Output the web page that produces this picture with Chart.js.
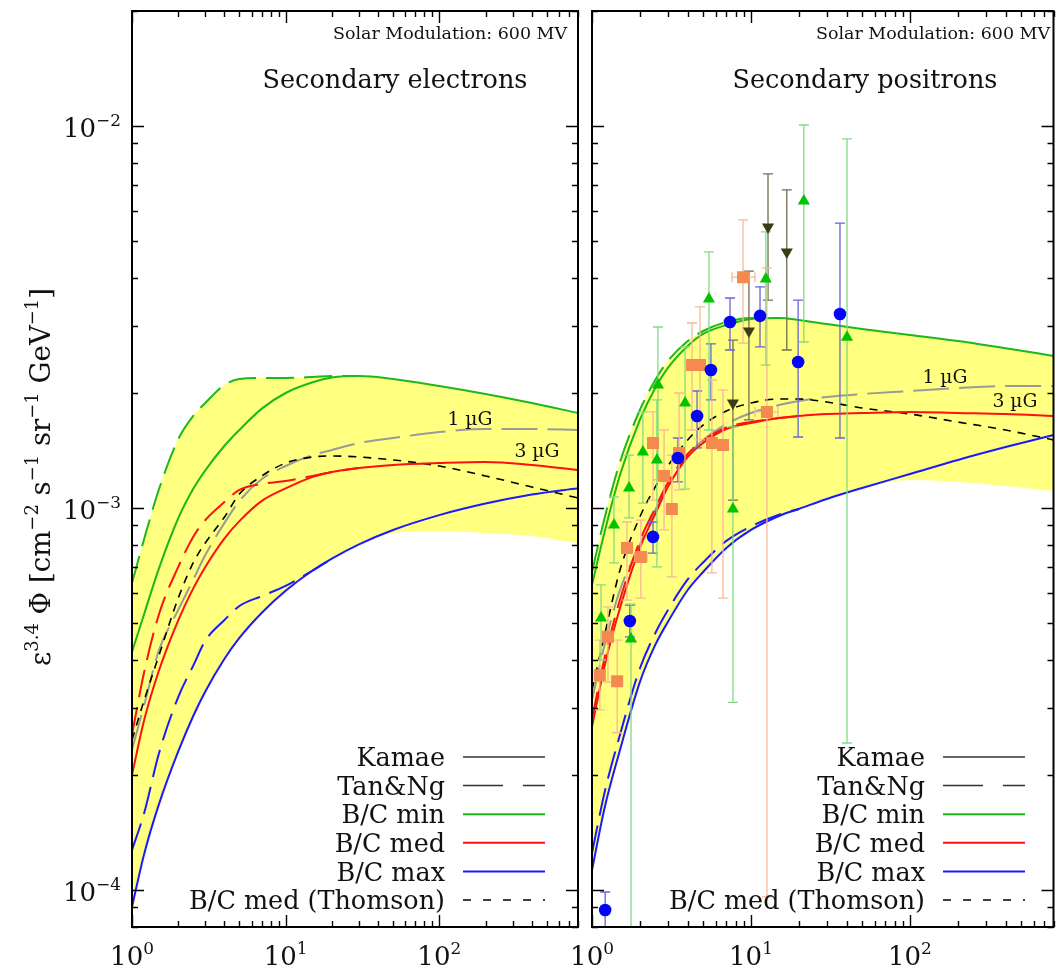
<!DOCTYPE html>
<html>
<head>
<meta charset="utf-8">
<script src="https://cdn.jsdelivr.net/npm/chart.js@4.4.1/dist/chart.umd.min.js"></script>
<style>
  html, body { margin: 0; padding: 0; background: #ffffff; }
  body { width: 1062px; height: 971px; position: relative; overflow: hidden; }
  canvas { position: absolute; left: 0; top: 0; width: 1062px; height: 971px; }
</style>
</head>
<body>
<canvas id="electrons" width="1062" height="971"></canvas>
<canvas id="positrons" width="1062" height="971"></canvas>
<script>
// ---------- axis ranges ----------
const X_MIN = 1, X_MAX = 800;          // kinetic energy [GeV]
const Y_MIN = 8e-5, Y_MAX = 2e-2;      // eps^3.4 * flux
const X_TICK_EXP = [0, 1, 2];
const Y_TICK_EXP = [-4, -3, -2];

// energy grid of the model curves [GeV]
const E_GRID = [1, 1.2, 1.5, 2, 2.5, 3, 4, 5, 7, 10, 15, 20, 30, 50, 100, 200, 400, 800];

// ---------- secondary electrons (left panel) ----------
const elMinKamae = [4.2e-4, 5.28e-4, 6.96e-4, 9.4e-4, 1.121e-3, 1.255e-3, 1.455e-3, 1.60e-3, 1.82e-3, 2.0e-3, 2.133e-3, 2.195e-3, 2.215e-3, 2.176e-3, 2.086e-3, 1.988e-3, 1.883e-3, 1.773e-3];
const elMinTanNg = [6.36e-4, 8.3e-4, 1.121e-3, 1.515e-3, 1.741e-3, 1.883e-3, 2.099e-3, 2.176e-3, 2.189e-3, 2.189e-3, 2.202e-3, 2.215e-3, 2.215e-3];
const elMedKamae = [2.0e-4, 2.786e-4, 3.76e-4, 5.08e-4, 6.15e-4, 7.01e-4, 8.33e-4, 9.24e-4, 1.044e-3, 1.125e-3, 1.206e-3, 1.242e-3, 1.273e-3, 1.296e-3, 1.311e-3, 1.32e-3, 1.296e-3, 1.257e-3];
const elMedTanNg = [2.55e-4, 3.72e-4, 5.28e-4, 7.01e-4, 8.4e-4, 9.3e-4, 1.037e-3, 1.115e-3, 1.156e-3, 1.177e-3, 1.213e-3, 1.242e-3, 1.273e-3];
const elMaxKamae = [9.03e-5, 1.242e-4, 1.68e-4, 2.305e-4, 2.85e-4, 3.31e-4, 4.03e-4, 4.57e-4, 5.32e-4, 6.07e-4, 6.86e-4, 7.37e-4, 8.03e-4, 8.76e-4, 9.58e-4, 1.027e-3, 1.085e-3, 1.127e-3];
const elMaxTanNg = [1.272e-4, 1.59e-4, 2.284e-4, 3.2e-4, 3.86e-4, 4.49e-4, 5.09e-4, 5.54e-4, 5.88e-4, 6.25e-4, 6.86e-4, 7.37e-4];
const elMedThomson = [2.47e-4, 3.14e-4, 4.12e-4, 5.81e-4, 7.18e-4, 8.1e-4, 9.47e-4, 1.088e-3, 1.213e-3, 1.311e-3, 1.36e-3, 1.368e-3, 1.36e-3, 1.336e-3, 1.288e-3, 1.213e-3, 1.135e-3, 1.062e-3];
const elMed1uG = [2.33e-4, 3.05e-4, 4.25e-4, 5.41e-4, 6.48e-4, 7.53e-4, 9.14e-4, 1.043e-3, 1.191e-3, 1.288e-3, 1.376e-3, 1.419e-3, 1.48e-3, 1.525e-3, 1.581e-3, 1.61e-3, 1.61e-3, 1.6e-3];
const elBandUpper = [6.36e-4, 8.3e-4, 1.121e-3, 1.515e-3, 1.741e-3, 1.883e-3, 2.099e-3, 2.176e-3, 2.189e-3, 2.189e-3, 2.202e-3, 2.215e-3, 2.215e-3, 2.176e-3, 2.086e-3, 1.988e-3, 1.883e-3, 1.773e-3];
const elBandLower = [9.03e-5, 1.242e-4, 1.68e-4, 2.305e-4, 2.85e-4, 3.31e-4, 4.03e-4, 4.57e-4, 5.32e-4, 6.07e-4, 6.86e-4, 7.37e-4, 8.03e-4, 8.6e-4, 8.7e-4, 8.6e-4, 8.45e-4, 8.1e-4];

// ---------- secondary positrons (right panel) ----------
const posMinKamae = [6.29e-4, 8.65e-4, 1.22e-3, 1.7e-3, 2.061e-3, 2.326e-3, 2.655e-3, 2.855e-3, 3.013e-3, 3.126e-3, 3.145e-3, 3.106e-3, 3.03e-3, 2.942e-3, 2.838e-3, 2.736e-3, 2.62e-3, 2.5e-3];
const posMinTanNg = [6.8e-4, 9.42e-4, 1.319e-3, 1.805e-3, 2.163e-3, 2.425e-3, 2.736e-3, 2.906e-3, 3.068e-3, 3.145e-3, 3.145e-3];
const posMedKamae = [2.67e-4, 3.86e-4, 5.47e-4, 7.86e-4, 9.65e-4, 1.135e-3, 1.36e-3, 1.48e-3, 1.61e-3, 1.669e-3, 1.72e-3, 1.741e-3, 1.762e-3, 1.773e-3, 1.784e-3, 1.773e-3, 1.762e-3, 1.741e-3];
const posMedTanNg = [2.8e-4, 4.05e-4, 5.75e-4, 8.2e-4, 1.0e-3, 1.165e-3, 1.385e-3, 1.5e-3, 1.625e-3, 1.68e-3, 1.72e-3, 1.741e-3];
const posMaxKamae = [1.128e-4, 1.64e-4, 2.325e-4, 3.5e-4, 4.38e-4, 5.03e-4, 6.1e-4, 6.8e-4, 7.86e-4, 8.76e-4, 9.53e-4, 9.94e-4, 1.056e-3, 1.128e-3, 1.227e-3, 1.336e-3, 1.444e-3, 1.553e-3];
const posMaxTanNg = [1.25e-4, 1.8e-4, 2.55e-4, 3.8e-4, 4.7e-4, 5.4e-4, 6.5e-4, 7.2e-4, 8.2e-4, 8.95e-4, 9.6e-4, 9.94e-4];
const posMedThomson = [3.34e-4, 4.65e-4, 6.88e-4, 9.47e-4, 1.135e-3, 1.288e-3, 1.507e-3, 1.649e-3, 1.795e-3, 1.883e-3, 1.929e-3, 1.929e-3, 1.894e-3, 1.827e-3, 1.762e-3, 1.679e-3, 1.6e-3, 1.507e-3];
const posMed1uG = [3.14e-4, 4.38e-4, 6.1e-4, 8.0e-4, 9.88e-4, 1.135e-3, 1.368e-3, 1.507e-3, 1.659e-3, 1.773e-3, 1.86e-3, 1.906e-3, 1.953e-3, 1.988e-3, 2.024e-3, 2.061e-3, 2.086e-3, 2.086e-3];
const posBandUpper = [6.8e-4, 9.42e-4, 1.319e-3, 1.805e-3, 2.163e-3, 2.425e-3, 2.736e-3, 2.906e-3, 3.068e-3, 3.145e-3, 3.145e-3, 3.106e-3, 3.03e-3, 2.942e-3, 2.838e-3, 2.736e-3, 2.62e-3, 2.5e-3];
const posBandLower = [1.128e-4, 1.64e-4, 2.325e-4, 3.5e-4, 4.38e-4, 5.03e-4, 6.1e-4, 6.8e-4, 7.86e-4, 8.76e-4, 9.53e-4, 9.94e-4, 1.056e-3, 1.128e-3, 1.184e-3, 1.17e-3, 1.142e-3, 1.108e-3];

// ---------- positron measurements ----------
// green up-triangles
const triE  = [1.14, 1.375, 1.71, 1.76, 2.09, 2.56, 2.60, 3.85, 5.44, 7.70, 12.4, 21.5, 40.2];
const triV  = [5.15e-4, 9.03e-4, 1.128e-3, 4.54e-4, 1.402e-3, 1.336e-3, 2.099e-3, 1.883e-3, 3.524e-3, 9.94e-4, 3.977e-3, 6.36e-3, 2.8e-3];
const triHi = [6.29e-4, 1.069e-3, 1.376e-3, 5.6e-4, 1.784e-3, 1.918e-3, 2.977e-3, 2.64e-3, 4.68e-3, 1.63e-3, 5.28e-3, 1.006e-2, 9.25e-3];
const triLo = [4.0e-4, 7.18e-4, 9.42e-4, 5.0e-5, 1.03e-3, 7.01e-4, 1.184e-3, 1.121e-3, 1.6e-3, 3.1e-4, 2.367e-3, 2.72e-3, 2.425e-4];
// orange squares
const sqE   = [1.12, 1.26, 1.44, 1.66, 2.03, 2.42, 2.84, 3.18, 3.53, 4.26, 4.78, 5.68, 6.67, 8.91, 12.6];
const sqV   = [3.65e-4, 4.6e-4, 3.52e-4, 7.86e-4, 7.44e-4, 1.48e-3, 1.213e-3, 9.94e-4, 1.393e-3, 2.367e-3, 2.367e-3, 1.48e-3, 1.462e-3, 4.02e-3, 1.784e-3];
const sqHi  = [4.51e-4, 5.51e-4, 4.51e-4, 9.19e-4, 9.3e-4, 1.784e-3, 1.6e-3, 1.376e-3, 2.0e-3, 3.05e-3, 3.36e-3, 2.163e-3, 2.036e-3, 5.68e-3, 4.25e-3];
const sqLo  = [2.96e-4, 3.5e-4, 2.58e-4, 5.74e-4, 5.81e-4, 1.049e-3, 8.76e-4, 6.6e-4, 1.115e-3, 1.6e-3, 1.507e-3, 6.76e-4, 5.81e-4, 2.7e-3, 9.59e-5];
const sqELo = [null, null, null, 1.54, 1.86, null, null, null, null, null, null, null, null, 7.6, 10.6];
const sqEHi = [null, null, null, 1.80, 2.22, null, null, null, null, null, null, null, null, 10.6, 14.8];
// blue circles
const circE  = [1.21, 1.73, 2.42, 3.47, 4.58, 5.6, 7.38, 11.4, 19.8, 36.3];
const circV  = [8.86e-5, 5.06e-4, 8.4e-4, 1.352e-3, 1.741e-3, 2.298e-3, 3.068e-3, 3.184e-3, 2.41e-3, 3.22e-3];
const circHi = [9.88e-5, 5.57e-4, 9.19e-4, 1.525e-3, 2.024e-3, 2.688e-3, 3.546e-3, 3.79e-3, 3.5e-3, 5.57e-3];
const circLo = [7.0e-5, 4.6e-4, 7.62e-4, 1.17e-3, 1.436e-3, 1.918e-3, 2.592e-3, 2.64e-3, 1.534e-3, 1.525e-3];
// dark olive down-triangles
const dnE  = [7.7, 9.71, 12.8, 16.8];
const dnV  = [1.883e-3, 2.906e-3, 5.44e-3, 4.68e-3];
const dnHi = [2.75e-3, 4.17e-3, 7.49e-3, 6.8e-3];
const dnLo = [1.049e-3, 1.7e-3, 3.5e-3, 2.592e-3];

// ---------- legend ----------
const LEGEND_LABELS = ['Kamae', 'Tan&Ng', 'B/C min', 'B/C med', 'B/C max', 'B/C med (Thomson)'];

// ---------- styling ----------
const C = {
  band: '#ffff80', green: '#1cb81c', red: '#ff1010', blue: '#1a1aff', grey: '#9a9a9a', black: '#000000',
  triMark: '#00c400', triBar: '#80dc80',
  sqMark: '#f58a50', sqBar: '#f7b898',
  circMark: '#0505f5', circBar: '#6464d8',
  dnMark: '#3c3c14', dnBar: '#6e6e50'
};
const DASH_TN = [28, 10], DASH_TH = [8, 7], DASH_1UG = [36, 10];
const SERIF = '"DejaVu Serif", "Liberation Serif", serif';

const pts = (E, V) => E.map((e, i) => ({ x: e, y: V[i] }));

function curve(E, V, color, width, dash) {
  return { data: pts(E, V), borderColor: color, borderWidth: width, borderDash: dash || [],
           pointRadius: 0, fill: false, cubicInterpolationMode: 'monotone', order: 3 };
}
function bandSets(upper, lower) {
  return [
    { data: pts(E_GRID, upper), borderWidth: 0, pointRadius: 0, fill: '+1', backgroundColor: C.band,
      cubicInterpolationMode: 'monotone', order: 9 },
    { data: pts(E_GRID, lower), borderWidth: 0, pointRadius: 0, fill: false,
      cubicInterpolationMode: 'monotone', order: 9 }
  ];
}
function modelSets(b) {
  const n = k => E_GRID.slice(0, k);
  return [
    curve(E_GRID, b.minK, C.green, 2),
    curve(n(b.minT.length), b.minT, C.green, 2, DASH_TN),
    curve(E_GRID, b.medK, C.red, 2),
    curve(n(b.medT.length), b.medT, C.red, 2, DASH_TN),
    curve(E_GRID, b.maxK, C.blue, 2),
    curve(n(b.maxT.length), b.maxT, C.blue, 2, DASH_TN),
    curve(E_GRID, b.th, C.black, 1.6, DASH_TH),
    curve(E_GRID, b.g1, C.grey, 2, DASH_1UG),
    ...bandSets(b.up, b.lo)
  ];
}
// vertical error bars with caps, one dataset per experiment
function yErrors(E, lo, hi, color) {
  const d = [];
  E.forEach((e, i) => d.push({ x: e, y: lo[i] }, { x: e, y: hi[i] }, { x: e, y: null }));
  return { data: d, borderColor: color, borderWidth: 1.3, pointStyle: 'line', pointRadius: 5,
           pointBorderColor: color, pointBorderWidth: 1.3, pointHoverRadius: 0, spanGaps: false, order: 1 };
}
function xErrors(E, V, eLo, eHi, color) {
  const d = [];
  E.forEach((e, i) => { if (eLo[i] !== null) d.push({ x: eLo[i], y: V[i] }, { x: eHi[i], y: V[i] }, { x: eHi[i], y: null }); });
  return { data: d, borderColor: color, borderWidth: 1.3, pointStyle: 'line', pointRotation: 90, pointRadius: 5,
           pointBorderColor: color, pointBorderWidth: 1.3, pointHoverRadius: 0, spanGaps: false, order: 1 };
}
function markers(E, V, style, radius, color, rotation) {
  return { data: pts(E, V), showLine: false, pointStyle: style, pointRadius: radius, pointRotation: rotation || 0,
           pointBackgroundColor: color, pointBorderColor: color, pointBorderWidth: 0, pointHoverRadius: radius, order: 0 };
}

// ---------- text helpers ----------
const fontPx = s => s.toFixed(2) + 'px ' + SERIF;
function fitSize(ctx, text, target) { ctx.font = fontPx(100); return 100 * target / ctx.measureText(text).width; }
function richWidth(ctx, parts, size) {
  let w = 0;
  for (const [t, s] of parts) { ctx.font = fontPx(s ? size * 0.65 : size); w += ctx.measureText(t).width; }
  return w;
}
function drawRich(ctx, parts, x, y, size, align) {
  const w = richWidth(ctx, parts, size);
  let cx = align === 'center' ? x - w / 2 : align === 'right' ? x - w : x;
  ctx.textAlign = 'left'; ctx.textBaseline = 'alphabetic';
  for (const [t, s] of parts) {
    ctx.font = fontPx(s ? size * 0.65 : size);
    ctx.fillText(t, cx, s ? y - size * 0.42 : y);
    cx += ctx.measureText(t).width;
  }
}
const sup = n => String(n).replace('-', '\u2212');

// frame, inward ticks, tick labels, titles, legend
function decoPlugin(cfg) {
  return {
    id: 'deco',
    afterDraw(chart) {
      const { ctx, chartArea: a } = chart;
      const xs = chart.scales.x, ys = chart.scales.y;
      ctx.save();
      ctx.strokeStyle = '#000'; ctx.lineWidth = 1.4; ctx.beginPath();
      for (let d = 0; d <= 2; d++) for (let m = 1; m <= 9; m++) {
        const v = m * Math.pow(10, d); if (v > X_MAX) continue;
        const p = Math.round(xs.getPixelForValue(v)) + 0.5, L = m === 1 ? 12 : 6;
        ctx.moveTo(p, a.bottom); ctx.lineTo(p, a.bottom - L);
        ctx.moveTo(p, a.top); ctx.lineTo(p, a.top + L);
      }
      for (let d = -5; d <= -2; d++) for (let m = 1; m <= 9; m++) {
        const v = m * Math.pow(10, d); if (v < Y_MIN * 0.999 || v > Y_MAX * 1.001) continue;
        const p = Math.round(ys.getPixelForValue(v)) + 0.5, L = m === 1 ? 12 : 6;
        ctx.moveTo(a.left, p); ctx.lineTo(a.left + L, p);
        ctx.moveTo(a.right, p); ctx.lineTo(a.right - L, p);
      }
      ctx.stroke();
      ctx.lineWidth = 2;
      ctx.strokeRect(a.left, a.top, a.right - a.left, a.bottom - a.top);

      ctx.fillStyle = '#111';
      X_TICK_EXP.forEach(k => drawRich(ctx, [['10', 0], [sup(k), 1]], xs.getPixelForValue(Math.pow(10, k)), 965, 26, 'center'));
      if (cfg.yLabels) {
        Y_TICK_EXP.forEach(k => drawRich(ctx, [['10', 0], [sup(k), 1]], 121, ys.getPixelForValue(Math.pow(10, k)) + 11, 26, 'right'));
        const parts = [['\u03b5', 0], ['3.4', 1], [' \u03a6 [cm', 0], ['\u22122', 1], [' s', 0], ['\u22121', 1],
                       [' sr', 0], ['\u22121', 1], [' GeV', 0], ['\u22121', 1], [']', 0]];
        const size = 26 * 378 / richWidth(ctx, parts, 26);
        ctx.save(); ctx.translate(50, 477); ctx.rotate(-Math.PI / 2);
        drawRich(ctx, parts, 0, 0, size, 'center');
        ctx.restore();
      }

      const solar = 'Solar Modulation: 600 MV';
      ctx.font = fontPx(fitSize(ctx, solar, 234)); ctx.textAlign = 'right'; ctx.textBaseline = 'alphabetic';
      ctx.fillText(solar, cfg.solarRight, 39);
      ctx.font = fontPx(fitSize(ctx, cfg.title, 265)); ctx.textAlign = 'center';
      ctx.fillText(cfg.title, cfg.titleX, 88);

      const gSize = fitSize(ctx, '1 \u00b5G', 45);
      ctx.font = fontPx(gSize); ctx.textBaseline = 'middle';
      ctx.fillText('1 \u00b5G', cfg.g1[0], cfg.g1[1]);
      ctx.fillText('3 \u00b5G', cfg.g3[0], cfg.g3[1]);

      const lSize = fitSize(ctx, LEGEND_LABELS[5], 256);
      const styles = [['#333', []], ['#333', [40, 20]], [C.green, []], [C.red, []], [C.blue, []], ['#000', [8, 12]]];
      LEGEND_LABELS.forEach((lab, i) => {
        const yy = 757 + i * 28.6;
        ctx.font = fontPx(lSize); ctx.textAlign = 'right'; ctx.textBaseline = 'alphabetic';
        ctx.fillText(lab, cfg.legText, yy + lSize * 0.36);
        ctx.strokeStyle = styles[i][0]; ctx.setLineDash(styles[i][1]); ctx.lineWidth = i < 2 || i === 5 ? 1.5 : 2;
        ctx.beginPath(); ctx.moveTo(cfg.legLine[0], yy); ctx.lineTo(cfg.legLine[1], yy); ctx.stroke();
      });
      ctx.setLineDash([]);
      ctx.restore();
    }
  };
}

function options(yWidth, padRight) {
  return {
    responsive: false, animation: false, devicePixelRatio: 1,
    layout: { padding: { left: 0, right: padRight, top: 11, bottom: 0 } },
    plugins: { legend: { display: false }, tooltip: { enabled: false } },
    events: [],
    scales: {
      x: { type: 'logarithmic', min: X_MIN, max: X_MAX, grid: { display: false }, border: { display: false },
           ticks: { display: false }, afterFit: s => { s.height = 44; } },
      y: { type: 'logarithmic', min: Y_MIN, max: Y_MAX, grid: { display: false }, border: { display: false },
           ticks: { display: false }, afterFit: s => { s.width = yWidth; } }
    }
  };
}

new Chart(document.getElementById('electrons'), {
  type: 'line',
  data: { datasets: modelSets({ minK: elMinKamae, minT: elMinTanNg, medK: elMedKamae, medT: elMedTanNg,
                                maxK: elMaxKamae, maxT: elMaxTanNg, th: elMedThomson, g1: elMed1uG,
                                up: elBandUpper, lo: elBandLower }) },
  options: options(132, 484),
  plugins: [decoPlugin({ yLabels: true, title: 'Secondary electrons', titleX: 395, solarRight: 567,
                         g1: [470, 420], g3: [537, 452], legText: 445, legLine: [463, 545] })]
});

new Chart(document.getElementById('positrons'), {
  type: 'line',
  data: { datasets: [
    markers(circE, circV, 'circle', 6.3, C.circMark),
    markers(sqE, sqV, 'rect', 8.5, C.sqMark),
    markers(triE, triV, 'triangle', 7, C.triMark),
    markers(dnE, dnV, 'triangle', 7, C.dnMark, 180),
    yErrors(triE, triLo, triHi, C.triBar),
    yErrors(sqE, sqLo, sqHi, C.sqBar),
    xErrors(sqE, sqV, sqELo, sqEHi, C.sqBar),
    yErrors(circE, circLo, circHi, C.circBar),
    yErrors(dnE, dnLo, dnHi, C.dnBar),
    ...modelSets({ minK: posMinKamae, minT: posMinTanNg, medK: posMedKamae, medT: posMedTanNg,
                   maxK: posMaxKamae, maxT: posMaxTanNg, th: posMedThomson, g1: posMed1uG,
                   up: posBandUpper, lo: posBandLower })
  ] },
  options: options(592, 8),
  plugins: [decoPlugin({ yLabels: false, title: 'Secondary positrons', titleX: 865, solarRight: 1050,
                         g1: [945, 378], g3: [1015, 402], legText: 925, legLine: [943, 1025] })]
});
</script>
</body>
</html>
